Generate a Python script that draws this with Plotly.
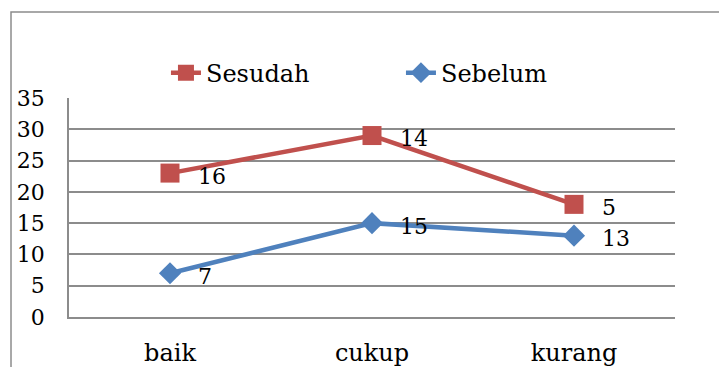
import plotly.graph_objects as go

# Categories and the two stacked series
categories = ["baik", "cukup", "kurang"]
sebelum = [7, 15, 13]
sesudah = [16, 14, 5]
y_ticks = [0, 5, 10, 15, 20, 25, 30, 35]

# Stacked line: Sesudah sits on top of Sebelum
sesudah_stacked = [a + b for a, b in zip(sebelum, sesudah)]

RED = "#C0504D"
BLUE = "#4F81BD"
GRID = "#8c8c8c"
FONT = "DejaVu Serif, serif"

fig = go.Figure()
fig.add_trace(go.Scatter(
    x=categories, y=sesudah_stacked, name="Sesudah", mode="lines+markers",
    line=dict(color=RED, width=4.5),
    marker=dict(symbol="square", size=19, color=RED),
))
fig.add_trace(go.Scatter(
    x=categories, y=sebelum, name="Sebelum", mode="lines+markers",
    line=dict(color=BLUE, width=4.5),
    marker=dict(symbol="diamond", size=17, color=BLUE),
))

# Value labels beside each point
annotations = []
for cat, ypos, val in zip(categories, sesudah_stacked, sesudah):
    annotations.append(dict(x=cat, y=ypos, text=str(val), showarrow=False,
                            xanchor="left", yanchor="middle", xshift=26, yshift=-3,
                            font=dict(family=FONT, size=22, color="black")))
for cat, ypos, val in zip(categories, sebelum, sebelum):
    annotations.append(dict(x=cat, y=ypos, text=str(val), showarrow=False,
                            xanchor="left", yanchor="middle", xshift=26, yshift=-3,
                            font=dict(family=FONT, size=22, color="black")))

# Chart-area border (extends past the right and bottom edges)
shapes = [dict(type="rect", xref="paper", yref="paper",
               x0=-0.0957, x1=1.3, y0=-0.6, y1=1.393,
               line=dict(color=GRID, width=1.5), fillcolor="rgba(0,0,0,0)", layer="below")]

fig.update_layout(
    width=719, height=367,
    margin=dict(l=69, r=44, t=98, b=50, autoexpand=False),
    paper_bgcolor="white", plot_bgcolor="white",
    font=dict(family=FONT, color="black"),
    showlegend=True,
    legend=dict(orientation="h", x=0.16, xanchor="left", y=1.114, yanchor="middle",
                font=dict(family=FONT, size=24, color="black"),
                entrywidth=190, entrywidthmode="pixels",
                bgcolor="rgba(0,0,0,0)", traceorder="normal"),
    annotations=annotations,
    shapes=shapes,
    xaxis=dict(type="category", range=[-0.5, 2.5], showgrid=False,
               showline=True, linecolor=GRID, linewidth=1.5,
               ticks="", tickfont=dict(family=FONT, size=24, color="black"),
               ticklabelstandoff=13, automargin=False, fixedrange=True),
    yaxis=dict(range=[0, 35], tickvals=y_ticks, showgrid=True,
               gridcolor=GRID, gridwidth=1.5, zeroline=False,
               showline=True, linecolor=GRID, linewidth=1.5,
               ticks="", tickfont=dict(family=FONT, size=22, color="black"),
               ticklabelstandoff=18, automargin=False, fixedrange=True),
)

fig.write_html("out.html")
